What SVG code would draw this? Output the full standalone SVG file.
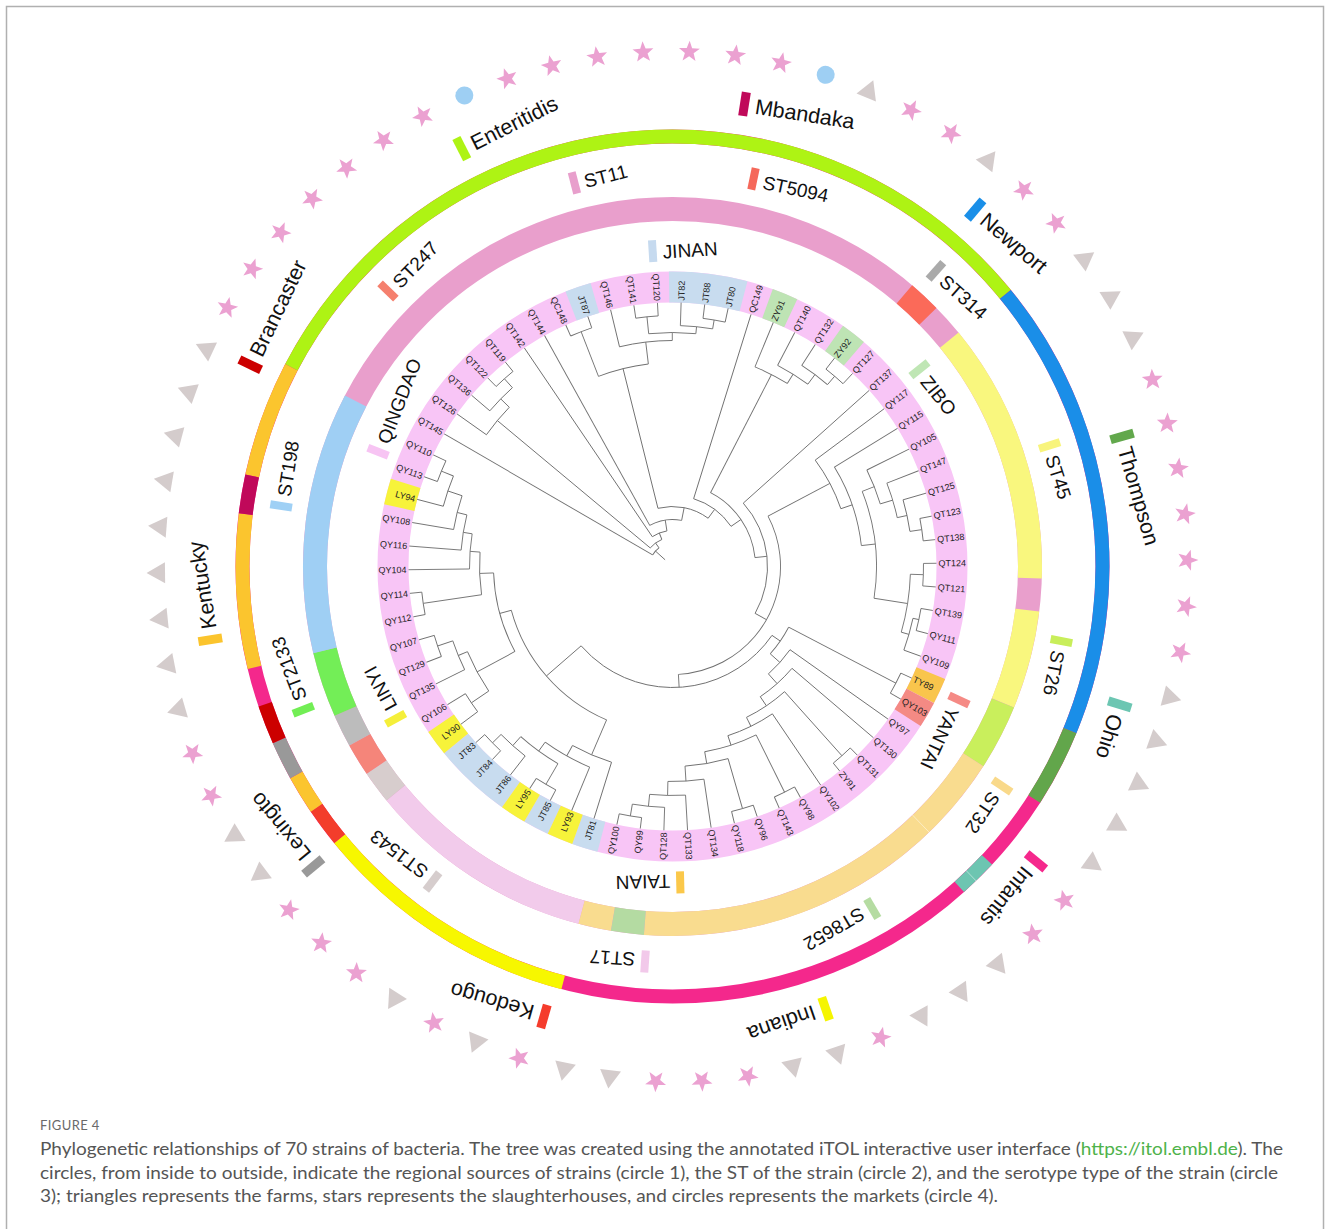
<svg xmlns="http://www.w3.org/2000/svg" width="1330" height="1229" viewBox="0 0 1330 1229">
<style>
.lf{font-family:"Liberation Sans",Arial,sans-serif;font-size:9px;fill:#222}
.le{text-anchor:end}
.l19{font-family:"Liberation Sans",Arial,sans-serif;font-size:19px;fill:#111}
.l21{font-family:"Liberation Sans",Arial,sans-serif;font-size:21.5px;fill:#111}
.cap{font-family:Lato,"Liberation Sans",sans-serif;font-size:16.5px;fill:#555}
.st{fill:#eba1d1}
.tr{fill:#d4cccc}
.ci{fill:#9ecff3}
</style>
<defs>
<path id="s" class="st" d="M0,-11L2.7,-3.72L10.46,-3.4L4.37,1.42L6.47,8.9L0,4.6L-6.47,8.9L-4.37,1.42L-10.46,-3.4L-2.7,-3.72Z"/>
<path id="t" class="tr" d="M0,-10L10.5,8.5L-10.5,8.5Z"/>
<circle id="c" class="ci" r="9"/>
</defs>
<rect x="6.5" y="6.5" width="1317" height="1240" fill="#fff" stroke="#b0b0b0" stroke-width="1.5"/>

<g id="rings" transform="translate(672.5,566.5)" fill="none">
<g id="circle1" stroke-width="31">
<circle r="279.5" stroke="#f8c5f6"/>
<g stroke="#c8dcef">
<circle r="279.5" pathLength="360" stroke-dasharray="5.15 360" transform="rotate(104.73)"/>
<circle r="279.5" pathLength="360" stroke-dasharray="5.15 360" transform="rotate(115.01)"/>
<circle r="279.5" pathLength="360" stroke-dasharray="15.43 360" transform="rotate(125.30)"/>
<circle r="279.5" pathLength="360" stroke-dasharray="5.15 360" transform="rotate(248.73)"/>
<circle r="279.5" pathLength="360" stroke-dasharray="15.43 360" transform="rotate(269.30)"/>
</g>
<g stroke="#f7f33a">
<circle r="279.5" pathLength="360" stroke-dasharray="5.15 360" transform="rotate(109.87)"/>
<circle r="279.5" pathLength="360" stroke-dasharray="5.15 360" transform="rotate(120.16)"/>
<circle r="279.5" pathLength="360" stroke-dasharray="5.15 360" transform="rotate(140.73)"/>
<circle r="279.5" pathLength="360" stroke-dasharray="5.15 360" transform="rotate(192.16)"/>
</g>
<g stroke="#bee4b4">
<circle r="279.5" pathLength="360" stroke-dasharray="5.15 360" transform="rotate(289.87)"/>
<circle r="279.5" pathLength="360" stroke-dasharray="5.15 360" transform="rotate(305.30)"/>
</g>
<circle r="279.5" pathLength="360" stroke="#f9c54c" stroke-dasharray="5.15 360" transform="rotate(22.44)"/>
<circle r="279.5" pathLength="360" stroke="#f48a84" stroke-dasharray="5.15 360" transform="rotate(27.59)"/>
</g>
<g id="circle2" stroke-width="24">
<circle r="357.5" stroke="#e99fcc"/>
<circle r="357.5" pathLength="360" stroke="#f2cbeb" stroke-dasharray="36 360" transform="rotate(104.73)"/>
<circle r="357.5" pathLength="360" stroke="#d7cdcd" stroke-dasharray="5.15 360" transform="rotate(140.73)"/>
<circle r="357.5" pathLength="360" stroke="#f5857a" stroke-dasharray="5.15 360" transform="rotate(145.87)"/>
<circle r="357.5" pathLength="360" stroke="#bcbcbc" stroke-dasharray="5.15 360" transform="rotate(151.01)"/>
<circle r="357.5" pathLength="360" stroke="#73ee57" stroke-dasharray="10.29 360" transform="rotate(156.16)"/>
<circle r="357.5" pathLength="360" stroke="#9fcff4" stroke-dasharray="41.14 360" transform="rotate(166.44)"/>
<circle r="357.5" pathLength="360" stroke="#fb6a59" stroke-dasharray="5.15 360" transform="rotate(310.44)"/>
<circle r="357.5" pathLength="360" stroke="#f9f77e" stroke-dasharray="41.14 360" transform="rotate(320.73)"/>
<circle r="357.5" pathLength="360" stroke="#f9f77e" stroke-dasharray="15.43 360" transform="rotate(7.01)"/>
<circle r="357.5" pathLength="360" stroke="#c9ef5c" stroke-dasharray="10.29 360" transform="rotate(22.44)"/>
<circle r="357.5" pathLength="360" stroke="#f9dc8f" stroke-dasharray="61.71 360" transform="rotate(32.73)"/>
<circle r="357.5" pathLength="360" stroke="#f9dc8f" stroke-dasharray="5.15 360" transform="rotate(99.59)"/>
<circle r="357.5" pathLength="360" stroke="#b4dba2" stroke-dasharray="5.15 360" transform="rotate(94.44)"/>
</g>
<g id="circle3" stroke-width="14">
<circle r="430" stroke="#f4288c"/>
<circle r="430" pathLength="360" stroke="#f7f700" stroke-dasharray="36 360" transform="rotate(104.73)"/>
<circle r="430" pathLength="360" stroke="#f33d2b" stroke-dasharray="5.15 360" transform="rotate(140.73)"/>
<circle r="430" pathLength="360" stroke="#fbc52e" stroke-dasharray="5.15 360" transform="rotate(145.87)"/>
<circle r="430" pathLength="360" stroke="#fbc52e" stroke-dasharray="20.57 360" transform="rotate(166.44)"/>
<circle r="430" pathLength="360" stroke="#fbc52e" stroke-dasharray="15.43 360" transform="rotate(192.16)"/>
<circle r="430" pathLength="360" stroke="#999999" stroke-dasharray="5.15 360" transform="rotate(151.01)"/>
<circle r="430" pathLength="360" stroke="#cc0000" stroke-dasharray="5.15 360" transform="rotate(156.16)"/>
<circle r="430" pathLength="360" stroke="#c0095a" stroke-dasharray="5.15 360" transform="rotate(187.01)"/>
<circle r="430" pathLength="360" stroke="#aef314" stroke-dasharray="113.14 360" transform="rotate(207.59)"/>
<circle r="430" pathLength="360" stroke="#1a8ee8" stroke-dasharray="61.71 360" transform="rotate(320.73)"/>
<circle r="430" pathLength="360" stroke="#62a64b" stroke-dasharray="10.29 360" transform="rotate(22.44)"/>
<circle r="430" pathLength="360" stroke="#6dc5b1" stroke-dasharray="5.15 360" transform="rotate(43.01)"/>
</g>
</g>

<g id="connectors" transform="translate(672.5,566.5)" fill="none" stroke="#707070" stroke-width="0.9">
<path d="M294 0H505" stroke="#ffffff" stroke-opacity="0.55" stroke-width="0.8" transform="rotate(46)"/>
<g id="leaf-branches">
<path d="M205 0H264" transform="rotate(107.30)"/>
<path d="M217 0H264" transform="rotate(112.44)"/>
<path d="M252 0H264" transform="rotate(117.59)"/>
<path d="M252 0H264" transform="rotate(122.73)"/>
<path d="M240 0H264" transform="rotate(127.87)"/>
<path d="M252 0H264" transform="rotate(133.01)"/>
<path d="M252 0H264" transform="rotate(138.16)"/>
<path d="M243 0H264" transform="rotate(143.30)"/>
<path d="M243 0H264" transform="rotate(148.44)"/>
<path d="M232 0H264" transform="rotate(153.59)"/>
<path d="M248 0H264" transform="rotate(158.73)"/>
<path d="M248 0H264" transform="rotate(163.87)"/>
<path d="M252 0H264" transform="rotate(169.01)"/>
<path d="M252 0H264" transform="rotate(174.16)"/>
<path d="M203 0H264" transform="rotate(179.30)"/>
<path d="M212 0H264" transform="rotate(184.44)"/>
<path d="M222 0H264" transform="rotate(189.59)"/>
<path d="M237 0H264" transform="rotate(194.73)"/>
<path d="M250 0H264" transform="rotate(199.87)"/>
<path d="M250 0H264" transform="rotate(205.01)"/>
<path d="M23 0H264" transform="rotate(210.16)"/>
<path d="M228 0H264" transform="rotate(215.30)"/>
<path d="M240 0H264" transform="rotate(220.44)"/>
<path d="M252 0H264" transform="rotate(225.59)"/>
<path d="M252 0H264" transform="rotate(230.73)"/>
<path d="M36 0H264" transform="rotate(235.87)"/>
<path d="M47 0H264" transform="rotate(241.01)"/>
<path d="M252 0H264" transform="rotate(246.16)"/>
<path d="M252 0H264" transform="rotate(251.30)"/>
<path d="M226 0H264" transform="rotate(256.44)"/>
<path d="M251 0H264" transform="rotate(261.59)"/>
<path d="M251 0H264" transform="rotate(266.73)"/>
<path d="M241 0H264" transform="rotate(271.87)"/>
<path d="M250 0H264" transform="rotate(277.01)"/>
<path d="M250 0H264" transform="rotate(282.16)"/>
<path d="M71 0H264" transform="rotate(287.30)"/>
<path d="M216 0H264" transform="rotate(292.44)"/>
<path d="M227 0H264" transform="rotate(297.59)"/>
<path d="M239 0H264" transform="rotate(302.73)"/>
<path d="M250 0H264" transform="rotate(307.87)"/>
<path d="M250 0H264" transform="rotate(313.01)"/>
<path d="M95 0H264" transform="rotate(318.16)"/>
<path d="M178 0H264" transform="rotate(323.30)"/>
<path d="M190 0H264" transform="rotate(328.44)"/>
<path d="M217 0H264" transform="rotate(333.59)"/>
<path d="M230 0H264" transform="rotate(338.73)"/>
<path d="M240 0H264" transform="rotate(343.87)"/>
<path d="M252 0H264" transform="rotate(349.01)"/>
<path d="M252 0H264" transform="rotate(354.16)"/>
<path d="M251 0H264" transform="rotate(359.30)"/>
<path d="M251 0H264" transform="rotate(4.44)"/>
<path d="M252 0H264" transform="rotate(9.59)"/>
<path d="M252 0H264" transform="rotate(14.73)"/>
<path d="M246 0H264" transform="rotate(19.87)"/>
<path d="M252 0H264" transform="rotate(25.01)"/>
<path d="M252 0H264" transform="rotate(30.16)"/>
<path d="M144 0H264" transform="rotate(35.30)"/>
<path d="M157 0H264" transform="rotate(40.44)"/>
<path d="M254 0H264" transform="rotate(45.59)"/>
<path d="M254 0H264" transform="rotate(50.73)"/>
<path d="M178 0H264" transform="rotate(55.87)"/>
<path d="M252 0H264" transform="rotate(61.01)"/>
<path d="M252 0H264" transform="rotate(66.16)"/>
<path d="M252 0H264" transform="rotate(71.30)"/>
<path d="M252 0H264" transform="rotate(76.44)"/>
<path d="M215 0H264" transform="rotate(81.59)"/>
<path d="M229 0H264" transform="rotate(86.73)"/>
<path d="M241 0H264" transform="rotate(91.87)"/>
<path d="M253 0H264" transform="rotate(97.01)"/>
<path d="M253 0H264" transform="rotate(102.16)"/>
</g>
<g id="inner-branches">
<path d="M240 0H252" transform="rotate(135.59)"/>
<path d="M228 0H240" transform="rotate(131.73)"/>
<path d="M228 0H252" transform="rotate(120.16)"/>
<path d="M217 0H228" transform="rotate(125.94)"/>
<path d="M205 0H217" transform="rotate(119.19)"/>
<path d="M167 0H205" transform="rotate(113.25)"/>
<path d="M222 0H243" transform="rotate(145.87)"/>
<path d="M232 0H248" transform="rotate(161.30)"/>
<path d="M222 0H232" transform="rotate(157.44)"/>
<path d="M179 0H222" transform="rotate(151.66)"/>
<path d="M237 0H250" transform="rotate(202.44)"/>
<path d="M222 0H237" transform="rotate(198.59)"/>
<path d="M212 0H222" transform="rotate(194.09)"/>
<path d="M203 0H212" transform="rotate(189.27)"/>
<path d="M193 0H203" transform="rotate(184.28)"/>
<path d="M193 0H252" transform="rotate(171.59)"/>
<path d="M179 0H193" transform="rotate(177.94)"/>
<path d="M167 0H179" transform="rotate(164.80)"/>
<path d="M121 0H167" transform="rotate(139.03)"/>
<path d="M241 0H253" transform="rotate(99.59)"/>
<path d="M229 0H241" transform="rotate(95.73)"/>
<path d="M215 0H229" transform="rotate(91.23)"/>
<path d="M200 0H215" transform="rotate(86.41)"/>
<path d="M200 0H252" transform="rotate(73.87)"/>
<path d="M188 0H200" transform="rotate(80.14)"/>
<path d="M188 0H252" transform="rotate(63.59)"/>
<path d="M178 0H188" transform="rotate(71.87)"/>
<path d="M168 0H178" transform="rotate(63.87)"/>
<path d="M168 0H254" transform="rotate(48.16)"/>
<path d="M157 0H168" transform="rotate(56.02)"/>
<path d="M144 0H157" transform="rotate(48.23)"/>
<path d="M131 0H144" transform="rotate(41.77)"/>
<path d="M131 0H252" transform="rotate(27.59)"/>
<path d="M121 0H131" transform="rotate(34.68)"/>
<path d="M108 0H121" transform="rotate(86.86)"/>
<path d="M240 0H252" transform="rotate(351.59)"/>
<path d="M230 0H240" transform="rotate(347.73)"/>
<path d="M217 0H230" transform="rotate(343.23)"/>
<path d="M204 0H217" transform="rotate(338.41)"/>
<path d="M238 0H251" transform="rotate(361.87)"/>
<path d="M246 0H252" transform="rotate(372.16)"/>
<path d="M238 0H246" transform="rotate(376.02)"/>
<path d="M204 0H238" transform="rotate(368.95)"/>
<path d="M190 0H204" transform="rotate(353.68)"/>
<path d="M178 0H190" transform="rotate(341.06)"/>
<path d="M108 0H178" transform="rotate(332.18)"/>
<path d="M95 0H108" transform="rotate(29.52)"/>
<path d="M83 0H95" transform="rotate(353.84)"/>
<path d="M239 0H250" transform="rotate(310.44)"/>
<path d="M227 0H239" transform="rotate(306.59)"/>
<path d="M216 0H227" transform="rotate(302.09)"/>
<path d="M83 0H216" transform="rotate(297.27)"/>
<path d="M71 0H83" transform="rotate(325.56)"/>
<path d="M60 0H71" transform="rotate(306.43)"/>
<path d="M204 0H252" transform="rotate(248.73)"/>
<path d="M234 0H251" transform="rotate(264.16)"/>
<path d="M241 0H250" transform="rotate(279.59)"/>
<path d="M234 0H241" transform="rotate(275.73)"/>
<path d="M226 0H234" transform="rotate(269.95)"/>
<path d="M204 0H226" transform="rotate(263.20)"/>
<path d="M60 0H204" transform="rotate(255.97)"/>
<path d="M47 0H60" transform="rotate(281.20)"/>
<path d="M36 0H47" transform="rotate(261.10)"/>
<path d="M240 0H252" transform="rotate(228.16)"/>
<path d="M228 0H240" transform="rotate(224.30)"/>
<path d="M29 0H228" transform="rotate(219.80)"/>
<path d="M29 0H36" transform="rotate(248.49)"/>
<path d="M23 0H29" transform="rotate(234.15)"/>
<path d="M10 0H23" transform="rotate(222.16)"/>
</g>
<g id="arcs">
<circle r="252" pathLength="360" stroke-dasharray="5.15 360" transform="rotate(133.01)"/>
<circle r="240" pathLength="360" stroke-dasharray="7.72 360" transform="rotate(127.87)"/>
<circle r="252" pathLength="360" stroke-dasharray="5.14 360" transform="rotate(117.59)"/>
<circle r="228" pathLength="360" stroke-dasharray="11.57 360" transform="rotate(120.16)"/>
<circle r="217" pathLength="360" stroke-dasharray="13.50 360" transform="rotate(112.44)"/>
<circle r="205" pathLength="360" stroke-dasharray="11.89 360" transform="rotate(107.30)"/>
<circle r="243" pathLength="360" stroke-dasharray="5.14 360" transform="rotate(143.30)"/>
<circle r="248" pathLength="360" stroke-dasharray="5.14 360" transform="rotate(158.73)"/>
<circle r="232" pathLength="360" stroke-dasharray="7.71 360" transform="rotate(153.59)"/>
<circle r="222" pathLength="360" stroke-dasharray="11.57 360" transform="rotate(145.87)"/>
<circle r="250" pathLength="360" stroke-dasharray="5.14 360" transform="rotate(199.87)"/>
<circle r="237" pathLength="360" stroke-dasharray="7.71 360" transform="rotate(194.73)"/>
<circle r="222" pathLength="360" stroke-dasharray="9.00 360" transform="rotate(189.59)"/>
<circle r="212" pathLength="360" stroke-dasharray="9.65 360" transform="rotate(184.44)"/>
<circle r="203" pathLength="360" stroke-dasharray="9.97 360" transform="rotate(179.30)"/>
<circle r="252" pathLength="360" stroke-dasharray="5.15 360" transform="rotate(169.01)"/>
<circle r="193" pathLength="360" stroke-dasharray="12.69 360" transform="rotate(171.59)"/>
<circle r="179" pathLength="360" stroke-dasharray="26.28 360" transform="rotate(151.66)"/>
<circle r="167" pathLength="360" stroke-dasharray="51.55 360" transform="rotate(113.25)"/>
<circle r="253" pathLength="360" stroke-dasharray="5.15 360" transform="rotate(97.01)"/>
<circle r="241" pathLength="360" stroke-dasharray="7.72 360" transform="rotate(91.87)"/>
<circle r="229" pathLength="360" stroke-dasharray="9.00 360" transform="rotate(86.73)"/>
<circle r="215" pathLength="360" stroke-dasharray="9.64 360" transform="rotate(81.59)"/>
<circle r="252" pathLength="360" stroke-dasharray="5.14 360" transform="rotate(71.30)"/>
<circle r="200" pathLength="360" stroke-dasharray="12.54 360" transform="rotate(73.87)"/>
<circle r="252" pathLength="360" stroke-dasharray="5.15 360" transform="rotate(61.01)"/>
<circle r="188" pathLength="360" stroke-dasharray="16.55 360" transform="rotate(63.59)"/>
<circle r="178" pathLength="360" stroke-dasharray="16.00 360" transform="rotate(55.87)"/>
<circle r="254" pathLength="360" stroke-dasharray="5.14 360" transform="rotate(45.59)"/>
<circle r="168" pathLength="360" stroke-dasharray="15.71 360" transform="rotate(48.16)"/>
<circle r="157" pathLength="360" stroke-dasharray="15.58 360" transform="rotate(40.44)"/>
<circle r="144" pathLength="360" stroke-dasharray="12.93 360" transform="rotate(35.30)"/>
<circle r="252" pathLength="360" stroke-dasharray="5.15 360" transform="rotate(25.01)"/>
<circle r="131" pathLength="360" stroke-dasharray="14.18 360" transform="rotate(27.59)"/>
<circle r="121" pathLength="360" stroke-dasharray="104.35 360" transform="rotate(34.68)"/>
<circle r="252" pathLength="360" stroke-dasharray="5.15 360" transform="rotate(349.01)"/>
<circle r="240" pathLength="360" stroke-dasharray="7.72 360" transform="rotate(343.87)"/>
<circle r="230" pathLength="360" stroke-dasharray="9.00 360" transform="rotate(338.73)"/>
<circle r="217" pathLength="360" stroke-dasharray="9.64 360" transform="rotate(333.59)"/>
<circle r="251" pathLength="360" stroke-dasharray="5.14 360" transform="rotate(359.30)"/>
<circle r="252" pathLength="360" stroke-dasharray="5.14 360" transform="rotate(369.59)"/>
<circle r="246" pathLength="360" stroke-dasharray="7.71 360" transform="rotate(372.16)"/>
<circle r="238" pathLength="360" stroke-dasharray="14.15 360" transform="rotate(361.87)"/>
<circle r="204" pathLength="360" stroke-dasharray="30.54 360" transform="rotate(338.41)"/>
<circle r="190" pathLength="360" stroke-dasharray="25.24 360" transform="rotate(328.44)"/>
<circle r="178" pathLength="360" stroke-dasharray="17.76 360" transform="rotate(323.30)"/>
<circle r="108" pathLength="360" stroke-dasharray="114.68 360" transform="rotate(332.18)"/>
<circle r="95" pathLength="360" stroke-dasharray="71.36 360" transform="rotate(318.16)"/>
<circle r="250" pathLength="360" stroke-dasharray="5.14 360" transform="rotate(307.87)"/>
<circle r="239" pathLength="360" stroke-dasharray="7.71 360" transform="rotate(302.73)"/>
<circle r="227" pathLength="360" stroke-dasharray="9.00 360" transform="rotate(297.59)"/>
<circle r="216" pathLength="360" stroke-dasharray="9.65 360" transform="rotate(292.44)"/>
<circle r="83" pathLength="360" stroke-dasharray="56.57 360" transform="rotate(297.27)"/>
<circle r="71" pathLength="360" stroke-dasharray="38.26 360" transform="rotate(287.30)"/>
<circle r="252" pathLength="360" stroke-dasharray="5.14 360" transform="rotate(246.16)"/>
<circle r="251" pathLength="360" stroke-dasharray="5.14 360" transform="rotate(261.59)"/>
<circle r="250" pathLength="360" stroke-dasharray="5.15 360" transform="rotate(277.01)"/>
<circle r="241" pathLength="360" stroke-dasharray="7.72 360" transform="rotate(271.87)"/>
<circle r="234" pathLength="360" stroke-dasharray="11.57 360" transform="rotate(264.16)"/>
<circle r="226" pathLength="360" stroke-dasharray="13.51 360" transform="rotate(256.44)"/>
<circle r="204" pathLength="360" stroke-dasharray="14.47 360" transform="rotate(248.73)"/>
<circle r="60" pathLength="360" stroke-dasharray="50.46 360" transform="rotate(255.97)"/>
<circle r="47" pathLength="360" stroke-dasharray="40.19 360" transform="rotate(241.01)"/>
<circle r="36" pathLength="360" stroke-dasharray="25.23 360" transform="rotate(235.87)"/>
<circle r="252" pathLength="360" stroke-dasharray="5.14 360" transform="rotate(225.59)"/>
<circle r="240" pathLength="360" stroke-dasharray="7.72 360" transform="rotate(220.44)"/>
<circle r="228" pathLength="360" stroke-dasharray="9.00 360" transform="rotate(215.30)"/>
<circle r="29" pathLength="360" stroke-dasharray="28.69 360" transform="rotate(219.80)"/>
<circle r="23" pathLength="360" stroke-dasharray="23.99 360" transform="rotate(210.16)"/>
</g>
</g>

<g id="leaves" transform="translate(672.5,566.5)" class="lf">
<g id="leaf-01"><text class="le" dy="3.2" transform="rotate(107.30) translate(266,0) rotate(180)">JT81</text></g>
<g id="leaf-02"><text class="le" dy="3.2" transform="rotate(112.44) translate(266,0) rotate(180)">LY93</text></g>
<g id="leaf-03"><text class="le" dy="3.2" transform="rotate(117.59) translate(266,0) rotate(180)">JT85</text></g>
<g id="leaf-04"><text class="le" dy="3.2" transform="rotate(122.73) translate(266,0) rotate(180)">LY95</text></g>
<g id="leaf-05"><text class="le" dy="3.2" transform="rotate(127.87) translate(266,0) rotate(180)">JT86</text></g>
<g id="leaf-06"><text class="le" dy="3.2" transform="rotate(133.01) translate(266,0) rotate(180)">JT84</text></g>
<g id="leaf-07"><text class="le" dy="3.2" transform="rotate(138.16) translate(266,0) rotate(180)">JT83</text></g>
<g id="leaf-08"><text class="le" dy="3.2" transform="rotate(143.30) translate(266,0) rotate(180)">LY90</text></g>
<g id="leaf-09"><text class="le" dy="3.2" transform="rotate(148.44) translate(266,0) rotate(180)">QY106</text></g>
<g id="leaf-10"><text class="le" dy="3.2" transform="rotate(153.59) translate(266,0) rotate(180)">QT135</text></g>
<g id="leaf-11"><text class="le" dy="3.2" transform="rotate(158.73) translate(266,0) rotate(180)">QT129</text></g>
<g id="leaf-12"><text class="le" dy="3.2" transform="rotate(163.87) translate(266,0) rotate(180)">QY107</text></g>
<g id="leaf-13"><text class="le" dy="3.2" transform="rotate(169.01) translate(266,0) rotate(180)">QY112</text></g>
<g id="leaf-14"><text class="le" dy="3.2" transform="rotate(174.16) translate(266,0) rotate(180)">QY114</text></g>
<g id="leaf-15"><text class="le" dy="3.2" transform="rotate(179.30) translate(266,0) rotate(180)">QY104</text></g>
<g id="leaf-16"><text class="le" dy="3.2" transform="rotate(184.44) translate(266,0) rotate(180)">QY116</text></g>
<g id="leaf-17"><text class="le" dy="3.2" transform="rotate(189.59) translate(266,0) rotate(180)">QY108</text></g>
<g id="leaf-18"><text class="le" dy="3.2" transform="rotate(194.73) translate(266,0) rotate(180)">LY94</text></g>
<g id="leaf-19"><text class="le" dy="3.2" transform="rotate(199.87) translate(266,0) rotate(180)">QY113</text></g>
<g id="leaf-20"><text class="le" dy="3.2" transform="rotate(205.01) translate(266,0) rotate(180)">QY110</text></g>
<g id="leaf-21"><text class="le" dy="3.2" transform="rotate(210.16) translate(266,0) rotate(180)">QT145</text></g>
<g id="leaf-22"><text class="le" dy="3.2" transform="rotate(215.30) translate(266,0) rotate(180)">QT126</text></g>
<g id="leaf-23"><text class="le" dy="3.2" transform="rotate(220.44) translate(266,0) rotate(180)">QT136</text></g>
<g id="leaf-24"><text class="le" dy="3.2" transform="rotate(225.59) translate(266,0) rotate(180)">QT122</text></g>
<g id="leaf-25"><text class="le" dy="3.2" transform="rotate(230.73) translate(266,0) rotate(180)">QT119</text></g>
<g id="leaf-26"><text class="le" dy="3.2" transform="rotate(235.87) translate(266,0) rotate(180)">QT142</text></g>
<g id="leaf-27"><text class="le" dy="3.2" transform="rotate(241.01) translate(266,0) rotate(180)">QT144</text></g>
<g id="leaf-28"><text class="le" dy="3.2" transform="rotate(246.16) translate(266,0) rotate(180)">QC148</text></g>
<g id="leaf-29"><text class="le" dy="3.2" transform="rotate(251.30) translate(266,0) rotate(180)">JT87</text></g>
<g id="leaf-30"><text class="le" dy="3.2" transform="rotate(256.44) translate(266,0) rotate(180)">QT146</text></g>
<g id="leaf-31"><text class="le" dy="3.2" transform="rotate(261.59) translate(266,0) rotate(180)">QT141</text></g>
<g id="leaf-32"><text class="le" dy="3.2" transform="rotate(266.73) translate(266,0) rotate(180)">QT120</text></g>
<g id="leaf-33"><text dy="3.2" transform="rotate(271.87) translate(266,0)">JT82</text></g>
<g id="leaf-34"><text dy="3.2" transform="rotate(277.01) translate(266,0)">JT88</text></g>
<g id="leaf-35"><text dy="3.2" transform="rotate(282.16) translate(266,0)">JT80</text></g>
<g id="leaf-36"><text dy="3.2" transform="rotate(287.30) translate(266,0)">QC149</text></g>
<g id="leaf-37"><text dy="3.2" transform="rotate(292.44) translate(266,0)">ZY91</text></g>
<g id="leaf-38"><text dy="3.2" transform="rotate(297.59) translate(266,0)">QT140</text></g>
<g id="leaf-39"><text dy="3.2" transform="rotate(302.73) translate(266,0)">QT132</text></g>
<g id="leaf-40"><text dy="3.2" transform="rotate(307.87) translate(266,0)">ZY92</text></g>
<g id="leaf-41"><text dy="3.2" transform="rotate(313.01) translate(266,0)">QT127</text></g>
<g id="leaf-42"><text dy="3.2" transform="rotate(318.16) translate(266,0)">QT137</text></g>
<g id="leaf-43"><text dy="3.2" transform="rotate(323.30) translate(266,0)">QY117</text></g>
<g id="leaf-44"><text dy="3.2" transform="rotate(328.44) translate(266,0)">QY115</text></g>
<g id="leaf-45"><text dy="3.2" transform="rotate(333.59) translate(266,0)">QY105</text></g>
<g id="leaf-46"><text dy="3.2" transform="rotate(338.73) translate(266,0)">QT147</text></g>
<g id="leaf-47"><text dy="3.2" transform="rotate(343.87) translate(266,0)">QT125</text></g>
<g id="leaf-48"><text dy="3.2" transform="rotate(349.01) translate(266,0)">QT123</text></g>
<g id="leaf-49"><text dy="3.2" transform="rotate(354.16) translate(266,0)">QT138</text></g>
<g id="leaf-50"><text dy="3.2" transform="rotate(359.30) translate(266,0)">QT124</text></g>
<g id="leaf-51"><text dy="3.2" transform="rotate(4.44) translate(266,0)">QT121</text></g>
<g id="leaf-52"><text dy="3.2" transform="rotate(9.59) translate(266,0)">QT139</text></g>
<g id="leaf-53"><text dy="3.2" transform="rotate(14.73) translate(266,0)">QY111</text></g>
<g id="leaf-54"><text dy="3.2" transform="rotate(19.87) translate(266,0)">QY109</text></g>
<g id="leaf-55"><text dy="3.2" transform="rotate(25.01) translate(266,0)">TY89</text></g>
<g id="leaf-56"><text dy="3.2" transform="rotate(30.16) translate(266,0)">QY103</text></g>
<g id="leaf-57"><text dy="3.2" transform="rotate(35.30) translate(266,0)">QY97</text></g>
<g id="leaf-58"><text dy="3.2" transform="rotate(40.44) translate(266,0)">QT130</text></g>
<g id="leaf-59"><text dy="3.2" transform="rotate(45.59) translate(266,0)">QT131</text></g>
<g id="leaf-60"><text dy="3.2" transform="rotate(50.73) translate(266,0)">ZY91</text></g>
<g id="leaf-61"><text dy="3.2" transform="rotate(55.87) translate(266,0)">QY102</text></g>
<g id="leaf-62"><text dy="3.2" transform="rotate(61.01) translate(266,0)">QY98</text></g>
<g id="leaf-63"><text dy="3.2" transform="rotate(66.16) translate(266,0)">QT143</text></g>
<g id="leaf-64"><text dy="3.2" transform="rotate(71.30) translate(266,0)">QY96</text></g>
<g id="leaf-65"><text dy="3.2" transform="rotate(76.44) translate(266,0)">QY118</text></g>
<g id="leaf-66"><text dy="3.2" transform="rotate(81.59) translate(266,0)">QT134</text></g>
<g id="leaf-67"><text dy="3.2" transform="rotate(86.73) translate(266,0)">QT133</text></g>
<g id="leaf-68"><text class="le" dy="3.2" transform="rotate(91.87) translate(266,0) rotate(180)">QT128</text></g>
<g id="leaf-69"><text class="le" dy="3.2" transform="rotate(97.01) translate(266,0) rotate(180)">QY99</text></g>
<g id="leaf-70"><text class="le" dy="3.2" transform="rotate(102.16) translate(266,0) rotate(180)">QY100</text></g>
</g>

<g id="region-labels" transform="translate(672.5,566.5)" class="l19">
<g id="lbl-jinan" transform="rotate(266.4) translate(316,0) rotate(90)"><rect x="-4" y="-11" width="8" height="22" fill="#c6daef"/><text x="10" y="8">JINAN</text></g>
<g id="lbl-zibo" transform="rotate(321.4) translate(316,0) rotate(90)"><rect x="-4" y="-11" width="8" height="22" fill="#bfe6b4"/><text x="10" y="8">ZIBO</text></g>
<g id="lbl-yantai" transform="rotate(24.97) translate(316,0) rotate(90)"><rect x="-4" y="-11" width="8" height="22" fill="#f58a85"/><text x="10" y="8">YANTAI</text></g>
<g id="lbl-taian" transform="rotate(88.6) translate(316,0) rotate(90)"><rect x="-4" y="-11" width="8" height="22" fill="#fbc84a"/><text x="10" y="8">TAIAN</text></g>
<g id="lbl-linyi" transform="rotate(151.2) translate(316,0) rotate(90)"><rect x="-4" y="-11" width="8" height="22" fill="#f5ef3a"/><text x="10" y="8">LINYI</text></g>
<g id="lbl-qingdao" transform="rotate(201.3) translate(316,0) rotate(90)"><rect x="-4" y="-11" width="8" height="22" fill="#f7c4f3"/><text x="10" y="8">QINGDAO</text></g>
</g>

<g id="st-labels" transform="translate(672.5,566.5)" class="l19">
<g id="lbl-st11" transform="rotate(255.66) translate(396,0) rotate(90)"><rect x="-4" y="-11" width="8" height="22" fill="#e89fcc"/><text x="10" y="8">ST11</text></g>
<g id="lbl-st5094" transform="rotate(281.8) translate(396,0) rotate(90)"><rect x="-4" y="-11" width="8" height="22" fill="#f5685a"/><text x="10" y="8">ST5094</text></g>
<g id="lbl-st314" transform="rotate(311.7) translate(396,0) rotate(90)"><rect x="-4" y="-11" width="8" height="22" fill="#aaaaaa"/><text x="10" y="8">ST314</text></g>
<g id="lbl-st45" transform="rotate(342.2) translate(396,0) rotate(90)"><rect x="-4" y="-11" width="8" height="22" fill="#f8f47c"/><text x="10" y="8">ST45</text></g>
<g id="lbl-st26" transform="rotate(10.86) translate(396,0) rotate(90)"><rect x="-4" y="-11" width="8" height="22" fill="#c8ee5a"/><text x="10" y="8">ST26</text></g>
<g id="lbl-st32" transform="rotate(33.67) translate(396,0) rotate(90)"><rect x="-4" y="-11" width="8" height="22" fill="#f9d98a"/><text x="10" y="8">ST32</text></g>
<g id="lbl-st8652" transform="rotate(59.7) translate(396,0) rotate(90)"><rect x="-4" y="-11" width="8" height="22" fill="#b5dca2"/><text x="10" y="8">ST8652</text></g>
<g id="lbl-st17" transform="rotate(93.98) translate(396,0) rotate(90)"><rect x="-4" y="-11" width="8" height="22" fill="#f2c9ea"/><text x="10" y="8">ST17</text></g>
<g id="lbl-st1543" transform="rotate(127.3) translate(396,0) rotate(90)"><rect x="-4" y="-11" width="8" height="22" fill="#d6cdcd"/><text x="10" y="8">ST1543</text></g>
<g id="lbl-st2133" transform="rotate(158.8) translate(396,0) rotate(90)"><rect x="-4" y="-11" width="8" height="22" fill="#72ee55"/><text x="10" y="8">ST2133</text></g>
<g id="lbl-st198" transform="rotate(188.8) translate(396,0) rotate(90)"><rect x="-4" y="-11" width="8" height="22" fill="#9fd0f5"/><text x="10" y="8">ST198</text></g>
<g id="lbl-st247" transform="rotate(224.07) translate(396,0) rotate(90)"><rect x="-4" y="-11" width="8" height="22" fill="#f5806e"/><text x="10" y="8">ST247</text></g>
</g>

<g id="serotype-labels" transform="translate(672.5,566.5)" class="l21">
<g id="lbl-enteritidis" transform="rotate(243.24) translate(468,0) rotate(90)"><rect x="-4.5" y="-12" width="9" height="24" fill="#aef315"/><text x="11" y="8">Enteritidis</text></g>
<g id="lbl-mbandaka" transform="rotate(278.85) translate(468,0) rotate(90)"><rect x="-4.5" y="-12" width="9" height="24" fill="#c0095a"/><text x="11" y="8">Mbandaka</text></g>
<g id="lbl-newport" transform="rotate(310.3) translate(468,0) rotate(90)"><rect x="-4.5" y="-12" width="9" height="24" fill="#1a8fe8"/><text x="11" y="8">Newport</text></g>
<g id="lbl-thompson" transform="rotate(343.86) translate(468,0) rotate(90)"><rect x="-4.5" y="-12" width="9" height="24" fill="#62a84c"/><text x="11" y="8">Thompson</text></g>
<g id="lbl-ohio" transform="rotate(17.14) translate(468,0) rotate(90)"><rect x="-4.5" y="-12" width="9" height="24" fill="#6cc6b2"/><text x="11" y="8">Ohio</text></g>
<g id="lbl-infantis" transform="rotate(39.05) translate(468,0) rotate(90)"><rect x="-4.5" y="-12" width="9" height="24" fill="#f5288c"/><text x="11" y="8">Infantis</text></g>
<g id="lbl-indiana" transform="rotate(70.9) translate(468,0) rotate(90)"><rect x="-4.5" y="-12" width="9" height="24" fill="#f5f500"/><text x="11" y="8">Indiana</text></g>
<g id="lbl-kedougo" transform="rotate(105.94) translate(468,0) rotate(90)"><rect x="-4.5" y="-12" width="9" height="24" fill="#f53c2c"/><text x="11" y="8">Kedougo</text></g>
<g id="lbl-lexingto" transform="rotate(140.14) translate(468,0) rotate(90)"><rect x="-4.5" y="-12" width="9" height="24" fill="#999999"/><text x="11" y="8">Lexingto</text></g>
<g id="lbl-kentucky" transform="rotate(170.99) translate(468,0) rotate(90)"><rect x="-4.5" y="-12" width="9" height="24" fill="#fbc42d"/><text x="11" y="8">Kentucky</text></g>
<g id="lbl-brancaster" transform="rotate(205.54) translate(468,0) rotate(90)"><rect x="-4.5" y="-12" width="9" height="24" fill="#cc0000"/><text x="11" y="8">Brancaster</text></g>
</g>

<g id="sources" transform="translate(672.5,566.5)">
<use href="#s" transform="rotate(107.30) translate(515,0) rotate(90)"/>
<use href="#t" transform="rotate(112.44) translate(516,0) rotate(90)"/>
<use href="#s" transform="rotate(117.59) translate(515,0) rotate(90)"/>
<use href="#t" transform="rotate(122.73) translate(516,0) rotate(90)"/>
<use href="#s" transform="rotate(127.87) translate(515,0) rotate(90)"/>
<use href="#s" transform="rotate(133.01) translate(515,0) rotate(90)"/>
<use href="#s" transform="rotate(138.16) translate(515,0) rotate(90)"/>
<use href="#t" transform="rotate(143.30) translate(516,0) rotate(90)"/>
<use href="#t" transform="rotate(148.44) translate(516,0) rotate(90)"/>
<use href="#s" transform="rotate(153.59) translate(515,0) rotate(90)"/>
<use href="#s" transform="rotate(158.73) translate(515,0) rotate(90)"/>
<use href="#t" transform="rotate(163.87) translate(516,0) rotate(90)"/>
<use href="#t" transform="rotate(169.01) translate(516,0) rotate(90)"/>
<use href="#t" transform="rotate(174.16) translate(516,0) rotate(90)"/>
<use href="#t" transform="rotate(179.30) translate(516,0) rotate(90)"/>
<use href="#t" transform="rotate(184.44) translate(516,0) rotate(90)"/>
<use href="#t" transform="rotate(189.59) translate(516,0) rotate(90)"/>
<use href="#t" transform="rotate(194.73) translate(516,0) rotate(90)"/>
<use href="#t" transform="rotate(199.87) translate(516,0) rotate(90)"/>
<use href="#t" transform="rotate(205.01) translate(516,0) rotate(90)"/>
<use href="#s" transform="rotate(210.16) translate(515,0) rotate(90)"/>
<use href="#s" transform="rotate(215.30) translate(515,0) rotate(90)"/>
<use href="#s" transform="rotate(220.44) translate(515,0) rotate(90)"/>
<use href="#s" transform="rotate(225.59) translate(515,0) rotate(90)"/>
<use href="#s" transform="rotate(230.73) translate(515,0) rotate(90)"/>
<use href="#s" transform="rotate(235.87) translate(515,0) rotate(90)"/>
<use href="#s" transform="rotate(241.01) translate(515,0) rotate(90)"/>
<use href="#c" transform="rotate(246.16) translate(515,0)"/>
<use href="#s" transform="rotate(251.30) translate(515,0) rotate(90)"/>
<use href="#s" transform="rotate(256.44) translate(515,0) rotate(90)"/>
<use href="#s" transform="rotate(261.59) translate(515,0) rotate(90)"/>
<use href="#s" transform="rotate(266.73) translate(515,0) rotate(90)"/>
<use href="#s" transform="rotate(271.87) translate(515,0) rotate(90)"/>
<use href="#s" transform="rotate(277.01) translate(515,0) rotate(90)"/>
<use href="#s" transform="rotate(282.16) translate(515,0) rotate(90)"/>
<use href="#c" transform="rotate(287.30) translate(515,0)"/>
<use href="#t" transform="rotate(292.44) translate(516,0) rotate(90)"/>
<use href="#s" transform="rotate(297.59) translate(515,0) rotate(90)"/>
<use href="#s" transform="rotate(302.73) translate(515,0) rotate(90)"/>
<use href="#t" transform="rotate(307.87) translate(516,0) rotate(90)"/>
<use href="#s" transform="rotate(313.01) translate(515,0) rotate(90)"/>
<use href="#s" transform="rotate(318.16) translate(515,0) rotate(90)"/>
<use href="#t" transform="rotate(323.30) translate(516,0) rotate(90)"/>
<use href="#t" transform="rotate(328.44) translate(516,0) rotate(90)"/>
<use href="#t" transform="rotate(333.59) translate(516,0) rotate(90)"/>
<use href="#s" transform="rotate(338.73) translate(515,0) rotate(90)"/>
<use href="#s" transform="rotate(343.87) translate(515,0) rotate(90)"/>
<use href="#s" transform="rotate(349.01) translate(515,0) rotate(90)"/>
<use href="#s" transform="rotate(354.16) translate(515,0) rotate(90)"/>
<use href="#s" transform="rotate(359.30) translate(515,0) rotate(90)"/>
<use href="#s" transform="rotate(4.44) translate(515,0) rotate(90)"/>
<use href="#s" transform="rotate(9.59) translate(515,0) rotate(90)"/>
<use href="#t" transform="rotate(14.73) translate(516,0) rotate(90)"/>
<use href="#t" transform="rotate(19.87) translate(516,0) rotate(90)"/>
<use href="#t" transform="rotate(25.01) translate(516,0) rotate(90)"/>
<use href="#t" transform="rotate(30.16) translate(516,0) rotate(90)"/>
<use href="#t" transform="rotate(35.30) translate(516,0) rotate(90)"/>
<use href="#s" transform="rotate(40.44) translate(515,0) rotate(90)"/>
<use href="#s" transform="rotate(45.59) translate(515,0) rotate(90)"/>
<use href="#t" transform="rotate(50.73) translate(516,0) rotate(90)"/>
<use href="#t" transform="rotate(55.87) translate(516,0) rotate(90)"/>
<use href="#t" transform="rotate(61.01) translate(516,0) rotate(90)"/>
<use href="#s" transform="rotate(66.16) translate(515,0) rotate(90)"/>
<use href="#t" transform="rotate(71.30) translate(516,0) rotate(90)"/>
<use href="#t" transform="rotate(76.44) translate(516,0) rotate(90)"/>
<use href="#s" transform="rotate(81.59) translate(515,0) rotate(90)"/>
<use href="#s" transform="rotate(86.73) translate(515,0) rotate(90)"/>
<use href="#s" transform="rotate(91.87) translate(515,0) rotate(90)"/>
<use href="#t" transform="rotate(97.01) translate(516,0) rotate(90)"/>
<use href="#t" transform="rotate(102.16) translate(516,0) rotate(90)"/>
</g>

<g id="caption">
<text x="40" y="1130" font-family="Lato,'Liberation Sans',sans-serif" font-size="13" fill="#6a6a6a" letter-spacing="0.4">FIGURE 4</text>
<text class="cap" x="40" y="1155" textLength="1243" lengthAdjust="spacingAndGlyphs">Phylogenetic relationships of 70 strains of bacteria. The tree was created using the annotated iTOL interactive user interface (<tspan fill="#4eb24a">https://itol.embl.de</tspan>). The</text>
<text class="cap" x="40" y="1179" textLength="1238" lengthAdjust="spacingAndGlyphs">circles, from inside to outside, indicate the regional sources of strains (circle 1), the ST of the strain (circle 2), and the serotype type of the strain (circle</text>
<text class="cap" x="40" y="1202" textLength="958" lengthAdjust="spacingAndGlyphs">3); triangles represents the farms, stars represents the slaughterhouses, and circles represents the markets (circle 4).</text>
</g>
</svg>
